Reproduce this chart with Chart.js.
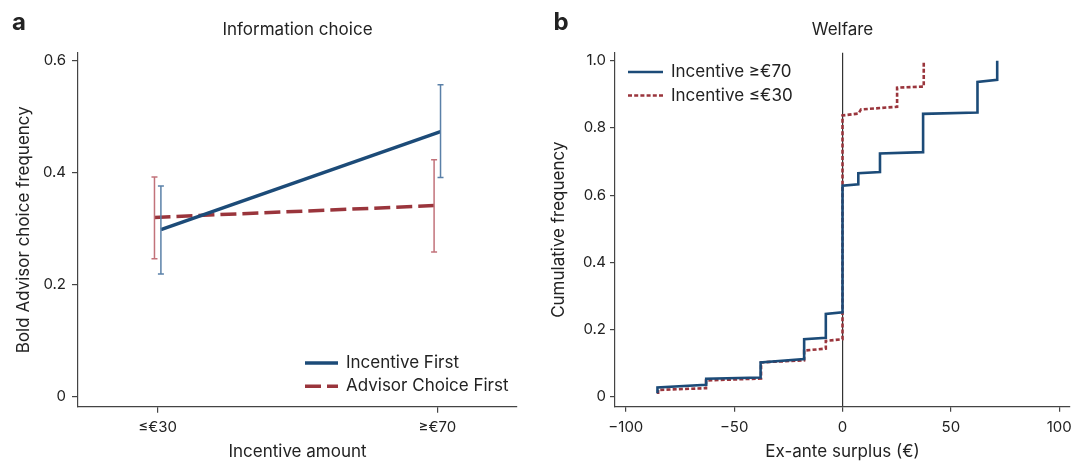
<!DOCTYPE html>
<html>
<head>
<meta charset="utf-8">
<script src="https://cdn.jsdelivr.net/npm/chart.js@4/dist/chart.umd.min.js"></script>
<style>
  body { margin: 0; background: #fff; }
  canvas { position: absolute; top: 0; }
  #infoChart { left: 0; }
  #welfareChart { left: 540px; }
</style>
</head>
<body>
<canvas id="infoChart" width="540" height="463"></canvas>
<canvas id="welfareChart" width="532" height="463"></canvas>
<script>
// panel a: information choice
const incentiveLevels = ["≤€30", "≥€70"];
const incentiveFirst = [0.298, 0.473];
const incentiveFirstLo = [0.219, 0.391];
const incentiveFirstHi = [0.376, 0.557];
const advisorFirst = [0.320, 0.341];
const advisorFirstLo = [0.246, 0.258];
const advisorFirstHi = [0.392, 0.423];

// panel b: welfare, cumulative frequency of ex-ante surplus
const surplusHigh = [-85.4, -85.4, -62.9, -62.9, -37.8, -37.8, -17.7, -17.7, -7.7, -7.7, 0, 0, 7.3, 7.3, 17.3, 17.3, 37.2, 37.2, 62.3, 62.3, 71.4, 71.4];
const cumHigh = [0.010, 0.027, 0.035, 0.053, 0.057, 0.102, 0.112, 0.171, 0.175, 0.246, 0.251, 0.628, 0.632, 0.665, 0.669, 0.724, 0.728, 0.842, 0.846, 0.937, 0.943, 1.0];
const surplusLow = [-85.1, -85.1, -63.0, -63.0, -37.6, -37.6, -17.7, -17.7, -7.7, -7.7, 0, 0, 7.4, 8.5, 25.2, 25.2, 37.5, 37.5];
const cumLow = [0.008, 0.020, 0.025, 0.048, 0.054, 0.102, 0.108, 0.137, 0.143, 0.166, 0.171, 0.837, 0.843, 0.855, 0.863, 0.920, 0.923, 1.0];

const blue = "#1c4b78";
const red = "#9a353c";
const blueBar = "#5a80a8";
const redBar = "#c2727a";
const ink = "#222";
const axisColor = "#444";
const FONT = "Inter";
const jitter = 0.0115;

Chart.defaults.font.family = FONT;
Chart.defaults.color = ink;
Chart.defaults.animation = false;
Chart.defaults.plugins.legend.display = false;
Chart.defaults.plugins.tooltip.enabled = false;

const fmtTick = v => (Math.abs(v) < 1e-9 ? "0" : v.toFixed(1));
const zeroPad = s => { s.paddingLeft = 0; s.paddingRight = 0; s.paddingTop = 0; s.paddingBottom = 0; };

// panel letter, title and an in-plot legend
const decor = {
  id: "decor",
  afterDraw(chart, args, opts) {
    const { ctx, chartArea } = chart;
    ctx.save();
    ctx.fillStyle = ink;
    ctx.textBaseline = "alphabetic";
    ctx.font = "bold 24px " + FONT;
    ctx.fillText(opts.letter, opts.letterX, 30);
    ctx.font = "17px " + FONT;
    ctx.textAlign = "center";
    ctx.fillText(opts.title, (chartArea.left + chartArea.right) / 2, 35);
    ctx.textAlign = "left";
    ctx.textBaseline = "middle";
    opts.items.forEach((idx, i) => {
      const ds = chart.data.datasets[idx];
      const y = opts.y + i * opts.gap;
      ctx.beginPath();
      ctx.strokeStyle = ds.borderColor;
      ctx.lineWidth = ds.borderWidth;
      ctx.setLineDash(ds.borderDash || []);
      ctx.moveTo(opts.x, y);
      ctx.lineTo(opts.x + opts.len, y);
      ctx.stroke();
      ctx.setLineDash([]);
      ctx.fillText(ds.label, opts.x + opts.len + 8, y);
    });
    ctx.restore();
  }
};

const errorBar = (vals, lo, hi, shift, color) =>
  vals.map((_, i) => ({
    label: "",
    data: [{ x: i + shift, y: lo[i] }, { x: i + shift, y: hi[i] }],
    borderColor: color,
    borderWidth: 1.5,
    pointStyle: "line",
    pointRadius: 3,
    pointBorderWidth: 1.5,
    pointBorderColor: color,
    order: 0
  }));

new Chart(document.getElementById("infoChart"), {
  type: "line",
  data: {
    datasets: [
      {
        label: "Incentive First",
        data: incentiveFirst.map((y, i) => ({ x: i + jitter, y })),
        borderColor: blue,
        borderWidth: 3.5,
        pointRadius: 0,
        order: 1
      },
      {
        label: "Advisor Choice First",
        data: advisorFirst.map((y, i) => ({ x: i - jitter, y })),
        borderColor: red,
        borderWidth: 3.5,
        borderDash: [16, 6],
        pointRadius: 0,
        order: 2
      },
      ...errorBar(incentiveFirst, incentiveFirstLo, incentiveFirstHi, jitter, blueBar),
      ...errorBar(advisorFirst, advisorFirstLo, advisorFirstHi, -jitter, redBar)
    ]
  },
  options: {
    responsive: false,
    devicePixelRatio: 1,
    layout: { padding: { top: 52.7, right: 23, bottom: 0, left: 0 } },
    scales: {
      x: {
        type: "linear",
        min: -0.285,
        max: 1.285,
        afterBuildTicks: s => { s.ticks = incentiveLevels.map((_, i) => ({ value: i })); },
        ticks: { callback: v => incentiveLevels[v], font: { size: 15 }, padding: 5.5, maxRotation: 0, autoSkip: false },
        grid: { drawOnChartArea: false, tickLength: 6, color: axisColor, lineWidth: 1.2 },
        border: { color: axisColor, width: 1.2 },
        title: { display: true, text: "Incentive amount", font: { size: 17 }, padding: { top: 0, bottom: 0.5 } },
        afterFit: s => { s.height = 56.3; zeroPad(s); }
      },
      y: {
        min: -0.018,
        max: 0.614,
        ticks: { stepSize: 0.2, includeBounds: false, callback: fmtTick, font: { size: 15 }, padding: 6 },
        grid: { drawOnChartArea: false, tickLength: 6, color: axisColor, lineWidth: 1.2 },
        border: { color: axisColor, width: 1.2 },
        title: { display: true, text: "Bold Advisor choice frequency", font: { size: 17 }, padding: { top: 13.2, bottom: 0 } },
        afterFit: s => { s.width = 78; zeroPad(s); }
      }
    },
    plugins: {
      decor: { letter: "a", letterX: 12, title: "Information choice", items: [0, 1], x: 305, y: 363, gap: 23.3, len: 33 }
    }
  },
  plugins: [decor]
});

new Chart(document.getElementById("welfareChart"), {
  type: "line",
  data: {
    datasets: [
      {
        label: "Incentive ≥€70",
        data: surplusHigh.map((x, i) => ({ x, y: cumHigh[i] })),
        borderColor: blue,
        borderWidth: 2.6,
        pointRadius: 0
      },
      {
        label: "Incentive ≤€30",
        data: surplusLow.map((x, i) => ({ x, y: cumLow[i] })),
        borderColor: red,
        borderWidth: 2.6,
        borderDash: [4, 2.2],
        pointRadius: 0
      }
    ]
  },
  options: {
    responsive: false,
    devicePixelRatio: 1,
    layout: { padding: { top: 52.7, right: 2, bottom: 0, left: 0 } },
    scales: {
      x: {
        type: "linear",
        min: -105,
        max: 105,
        ticks: { stepSize: 50, includeBounds: false, font: { size: 15 }, padding: 6.5, maxRotation: 0,
          callback: v => (v < 0 ? "\u2212" + Math.abs(v) : String(v)) },
        grid: {
          drawOnChartArea: true,
          tickLength: 5,
          color: c => (c.tick && c.tick.value === 0 ? "#333" : "rgba(0,0,0,0)"),
          tickColor: axisColor,
          lineWidth: 1.2
        },
        border: { color: axisColor, width: 1.2 },
        title: { display: true, text: "Ex-ante surplus (€)", font: { size: 17 }, padding: { top: 0, bottom: 0.5 } },
        afterFit: s => { s.height = 56.3; zeroPad(s); }
      },
      y: {
        min: -0.03,
        max: 1.024,
        ticks: { stepSize: 0.2, includeBounds: false, callback: fmtTick, font: { size: 15 }, padding: 4 },
        grid: { drawOnChartArea: false, tickLength: 5, color: axisColor, lineWidth: 1.2 },
        border: { color: axisColor, width: 1.2 },
        title: { display: true, text: "Cumulative frequency", font: { size: 17 }, padding: { top: 8.5, bottom: 0 } },
        afterFit: s => { s.width = 75; zeroPad(s); }
      }
    },
    plugins: {
      decor: { letter: "b", letterX: 13.5, title: "Welfare", items: [0, 1], x: 88, y: 72, gap: 23.5, len: 35 }
    }
  },
  plugins: [decor]
});
</script>
</body>
</html>
